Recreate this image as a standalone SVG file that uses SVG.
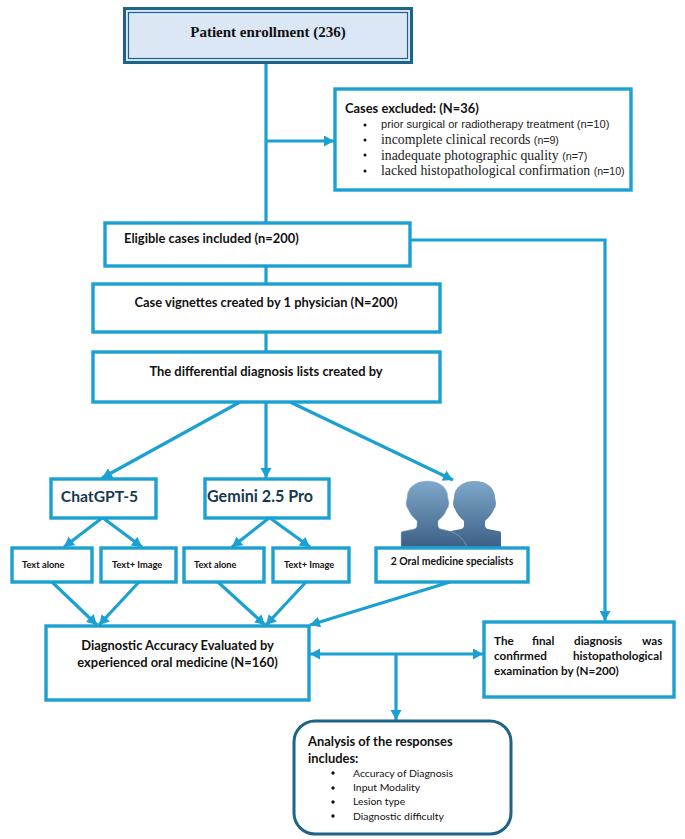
<svg xmlns="http://www.w3.org/2000/svg" width="685" height="839" viewBox="0 0 685 839">
<style>
.box{fill:#fff;stroke:#1ba1d1;stroke-width:3.4}
.c{fill:none;stroke:#1ba1d1;stroke-width:3.2}
.a{marker-end:url(#ah)}
text{font-family:Lato,"Liberation Sans",sans-serif;fill:#111}
.b{font-weight:700}
.m{text-anchor:middle}
.ser{font-family:"Liberation Serif",serif;fill:#222}
.ari{font-family:"Liberation Sans",sans-serif;fill:#222}
.n{font-size:12.9px;font-weight:700}
.s{font-size:9.300px;font-weight:700}
.f{font-size:11.700px;font-weight:700}
.l{font-size:10.400px}
.h{font-size:12.900px;font-weight:700}
.t{font-size:13.800px}
.u{font-size:11.200px}
</style>
<defs>
<marker id="ah" markerUnits="userSpaceOnUse" markerWidth="12" markerHeight="12" refX="10" refY="5.500" orient="auto"><path d="M0 0L10 5.500L0 11Z" fill="#1ba1d1"/></marker>
<linearGradient id="p" gradientUnits="userSpaceOnUse" x1="0" y1="481" x2="0" y2="547"><stop offset="0" stop-color="#7fa8ca"/><stop offset="1" stop-color="#3d5f86"/></linearGradient>
</defs>
<g id="connectors">
<path class="c" d="M266 64V223"/>
<path class="c a" d="M266 141H334"/>
<path class="c" d="M266 266V283M266 332V351"/>
<path class="c a" d="M410 240H605V621"/>
<path class="c a" d="M240 402L102 478"/>
<path class="c a" d="M266 402V478"/>
<path class="c a" d="M290 402L453 480"/>
<path class="c a" d="M102 518L64 547"/>
<path class="c a" d="M103 518L142 547"/>
<path class="c a" d="M269 518L232 547"/>
<path class="c a" d="M270 518L310 547"/>
<path class="c a" d="M52 582L97 625"/>
<path class="c a" d="M139 582L99 625"/>
<path class="c a" d="M218 582L265 625"/>
<path class="c a" d="M306 582L266 625"/>
<path class="c a" d="M450 582L310 625"/>
<path class="c a" d="M396 654H483"/>
<path class="c a" d="M396 654H310"/>
<path class="c a" d="M396 654V720"/>
</g>
<g id="patient"><rect x="124.500" y="8.500" width="287" height="54" fill="#dbe7f5" stroke="#1d6488" stroke-width="3"/><rect x="128.500" y="12.500" width="279" height="46" fill="none" stroke="#1d6488" stroke-width="1.200"/><text x="268" y="37" class="m ser" font-weight="700" font-size="15" style="fill:#111">Patient enrollment (236)</text></g>
<g id="excluded"><rect class="box" x="335" y="89" width="296" height="101"/>
<text x="345" y="113" class="h">Cases excluded: (N=36)</text>
<g fill="#111"><circle cx="365" cy="125" r="1.500"/><circle cx="365" cy="140" r="1.500"/><circle cx="365" cy="155" r="1.500"/><circle cx="365" cy="171" r="1.500"/></g>
<text x="381" y="128" class="ari u">prior surgical or radiotherapy treatment (n=10)</text>
<text x="381" y="144" class="ser t">incomplete clinical records <tspan class="ari" font-size="10.600">(n=9)</tspan></text>
<text x="381" y="160" class="ser t">inadequate photographic quality <tspan class="ari" font-size="10.600">(n=7)</tspan></text>
<text x="381" y="175" class="ser t">lacked histopathological confirmation <tspan class="ari" font-size="10.600">(n=10)</tspan></text></g>
<g id="eligible"><rect class="box" x="105" y="223" width="305" height="43"/><text x="124" y="243" class="n">Eligible cases included (n=200)</text></g>
<g id="vignettes"><rect class="box" x="93" y="284" width="347" height="48"/><text x="266" y="307" class="n m">Case vignettes created by 1 physician (N=200)</text></g>
<g id="differential"><rect class="box" x="93" y="352" width="347" height="50"/><text x="266" y="376" class="n m">The differential diagnosis lists created by</text></g>
<g id="chatgpt"><rect class="box" x="51" y="479" width="105" height="39"/><text x="99.500" y="502" class="b m" font-size="15.700" style="fill:#17384f">ChatGPT-5</text></g>
<g id="gemini"><rect class="box" x="205" y="479" width="124" height="39"/><text x="207" y="502" class="b" font-size="16.100" style="fill:#17384f">Gemini 2.5 Pro</text></g>
<g id="text-alone-1"><rect class="box" x="12" y="548" width="80" height="34"/><text x="22" y="568" class="s">Text alone</text></g>
<g id="text-image-1"><rect class="box" x="101" y="548" width="75" height="34"/><text x="112" y="568" class="s">Text+ Image</text></g>
<g id="text-alone-2"><rect class="box" x="184" y="548" width="80" height="34"/><text x="194" y="568" class="s">Text alone</text></g>
<g id="text-image-2"><rect class="box" x="273" y="548" width="76" height="34"/><text x="284" y="568" class="s">Text+ Image</text></g>
<g id="specialists">
<path fill="url(#p)" transform="translate(47 0)" d="M401 547V533Q401 531 404 531L414 529Q417 528 417 525V521Q410 515 408 509Q406 507 406 503Q406.500 500 407 498C407 487 416 481 427.500 481C439 481 448 487 448 498Q448.500 500 449 503Q449 507 447 509Q445 515 438 521V525Q438 528 441 529L451 531Q454 531 454 533V547Z"/>
<path fill="url(#p)" stroke="#a9c0d6" stroke-width="0.500" d="M401 547V533Q401 531 404 531L414 529Q417 528 417 525V521Q410 515 408 509Q406 507 406 503Q406.500 500 407 498C407 487 416 481 427.500 481C439 481 448 487 448 498Q448.500 500 449 503Q449 507 447 509Q445 515 438 521V525Q438 528 441 529Q462 532 467 547Z"/>
<rect class="box" x="376" y="548" width="152" height="34"/><text x="452" y="565" class="b m" font-size="10.400">2 Oral medicine specialists</text></g>
<g id="accuracy"><rect class="box" x="46" y="626" width="263" height="74"/><text x="177.500" y="650" class="n m">Diagnostic Accuracy Evaluated by</text><text x="177.500" y="667" class="n m">experienced oral medicine (N=160)</text></g>
<g id="final"><rect class="box" x="484" y="622" width="190" height="75"/>
<text y="645" class="f"><tspan x="494">The</tspan><tspan x="532">final</tspan><tspan x="574">diagnosis</tspan><tspan x="642">was</tspan></text>
<text y="660" class="f"><tspan x="494">confirmed</tspan><tspan x="573">histopathological</tspan></text>
<text x="494" y="675" class="f">examination by (N=200)</text></g>
<g id="analysis"><rect x="294" y="721" width="217" height="113" rx="21" fill="#fff" stroke="#1d6488" stroke-width="3"/>
<text x="308" y="746" class="h">Analysis of the responses</text><text x="308" y="763" class="h">includes:</text>
<g fill="#111"><circle cx="333" cy="773" r="1.700"/><circle cx="333" cy="788" r="1.700"/><circle cx="333" cy="802" r="1.700"/><circle cx="333" cy="816" r="1.700"/></g>
<text x="353" y="777" class="l">Accuracy of Diagnosis</text><text x="353" y="791" class="l">Input Modality</text><text x="353" y="805" class="l">Lesion type</text><text x="353" y="820" class="l">Diagnostic difficulty</text></g>
</svg>
